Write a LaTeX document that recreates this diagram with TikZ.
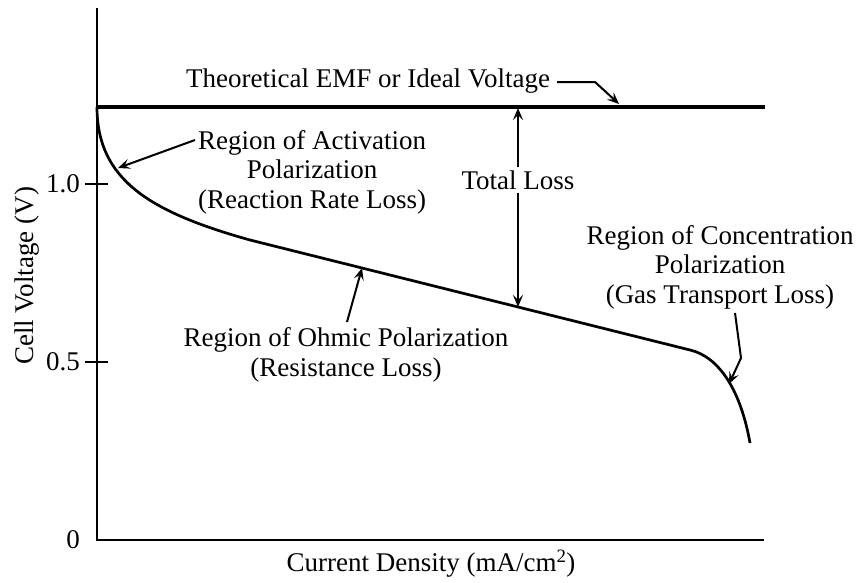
\documentclass[tikz,border=0pt]{standalone}
\usepackage{fontspec}
\setmainfont{Liberation Serif}
\usetikzlibrary{arrows.meta}
\begin{document}
\begin{tikzpicture}[x=1pt,y=-1pt,
  lbl/.style={font=\fontsize{27}{29.5}\selectfont, inner sep=1pt, align=center},
  axisline/.style={line width=2pt},
  arr/.style={line width=2pt, -{Stealth[length=12pt,width=10pt,inset=5pt]}},
  curve/.style={line width=2.7pt}]
\useasboundingbox (0,0) rectangle (858,582);
% axes
\coordinate (ytop) at (97,8);
\coordinate (orig) at (97,540);
\coordinate (xend) at (764,540);
\draw[axisline] (ytop) -- (orig) -- (xend);
% ticks
\coordinate (t1a) at (85,184); \coordinate (t1b) at (108,184);
\coordinate (t5a) at (85,362); \coordinate (t5b) at (108,362);
\draw[axisline] (t1a) -- (t1b);
\draw[axisline] (t5a) -- (t5b);
\node[lbl, anchor=east] (l10) at (81,184) {1.0};
\node[lbl, anchor=east] (l05) at (81,362) {0.5};
\node[lbl, anchor=east] (l0) at (81,540) {0};
% axis labels
\node[lbl, rotate=90] (ylab) at (27,276) {Cell Voltage (V)};
\node[lbl] (xlab) at (431,564) {Current Density (mA/cm\textsuperscript{2})};
% ideal line
\coordinate (id0) at (97,107);
\coordinate (id1) at (765,107);
\draw[line width=3.2pt] (id0) -- (id1);
% polarization curve
\coordinate (c0) at (97,107);
\coordinate (c1) at (250,240);
\coordinate (c2) at (690,350);
\coordinate (c3) at (750,443);
\draw[curve] (c0) .. controls (97,180) and (150,212) .. (c1) -- (c2) .. controls (720,357) and (741,392) .. (c3);
% labels
\node[lbl] (ideal) at (368,81) {Theoretical EMF or Ideal Voltage};
\coordinate (ids) at (557,82);
\coordinate (idk) at (595,82);
\coordinate (idtip) at (619,104);
\draw[arr] (ids) -- (idk) -- (idtip);
\node[lbl] (act) at (312,172) {Region of Activation\\Polarization\\(Reaction Rate Loss)};
\coordinate (acts) at (195,140);
\coordinate (acttip) at (118,168);
\draw[arr] (acts) -- (acttip);
\node[lbl, fill=white, inner sep=3pt] (tl) at (518,180) {Total Loss};
\coordinate (tltop) at (518,108);
\coordinate (tlbot) at (518,307);
\draw[arr] (tl) -- (tltop);
\draw[arr] (tl) -- (tlbot);
\node[lbl] (ohm) at (346,355) {Region of Ohmic Polarization\\(Resistance Loss)};
\coordinate (ohms) at (347,322);
\coordinate (ohmtip) at (362,268);
\draw[arr] (ohms) -- (ohmtip);
\node[lbl] (conc) at (720,267) {Region of Concentration\\Polarization\\(Gas Transport Loss)};
\coordinate (concs) at (735,313);
\coordinate (conck) at (741,358);
\coordinate (conctip) at (729,384);
\draw[arr] (concs) -- (conck) -- (conctip);
\end{tikzpicture}
\end{document}
